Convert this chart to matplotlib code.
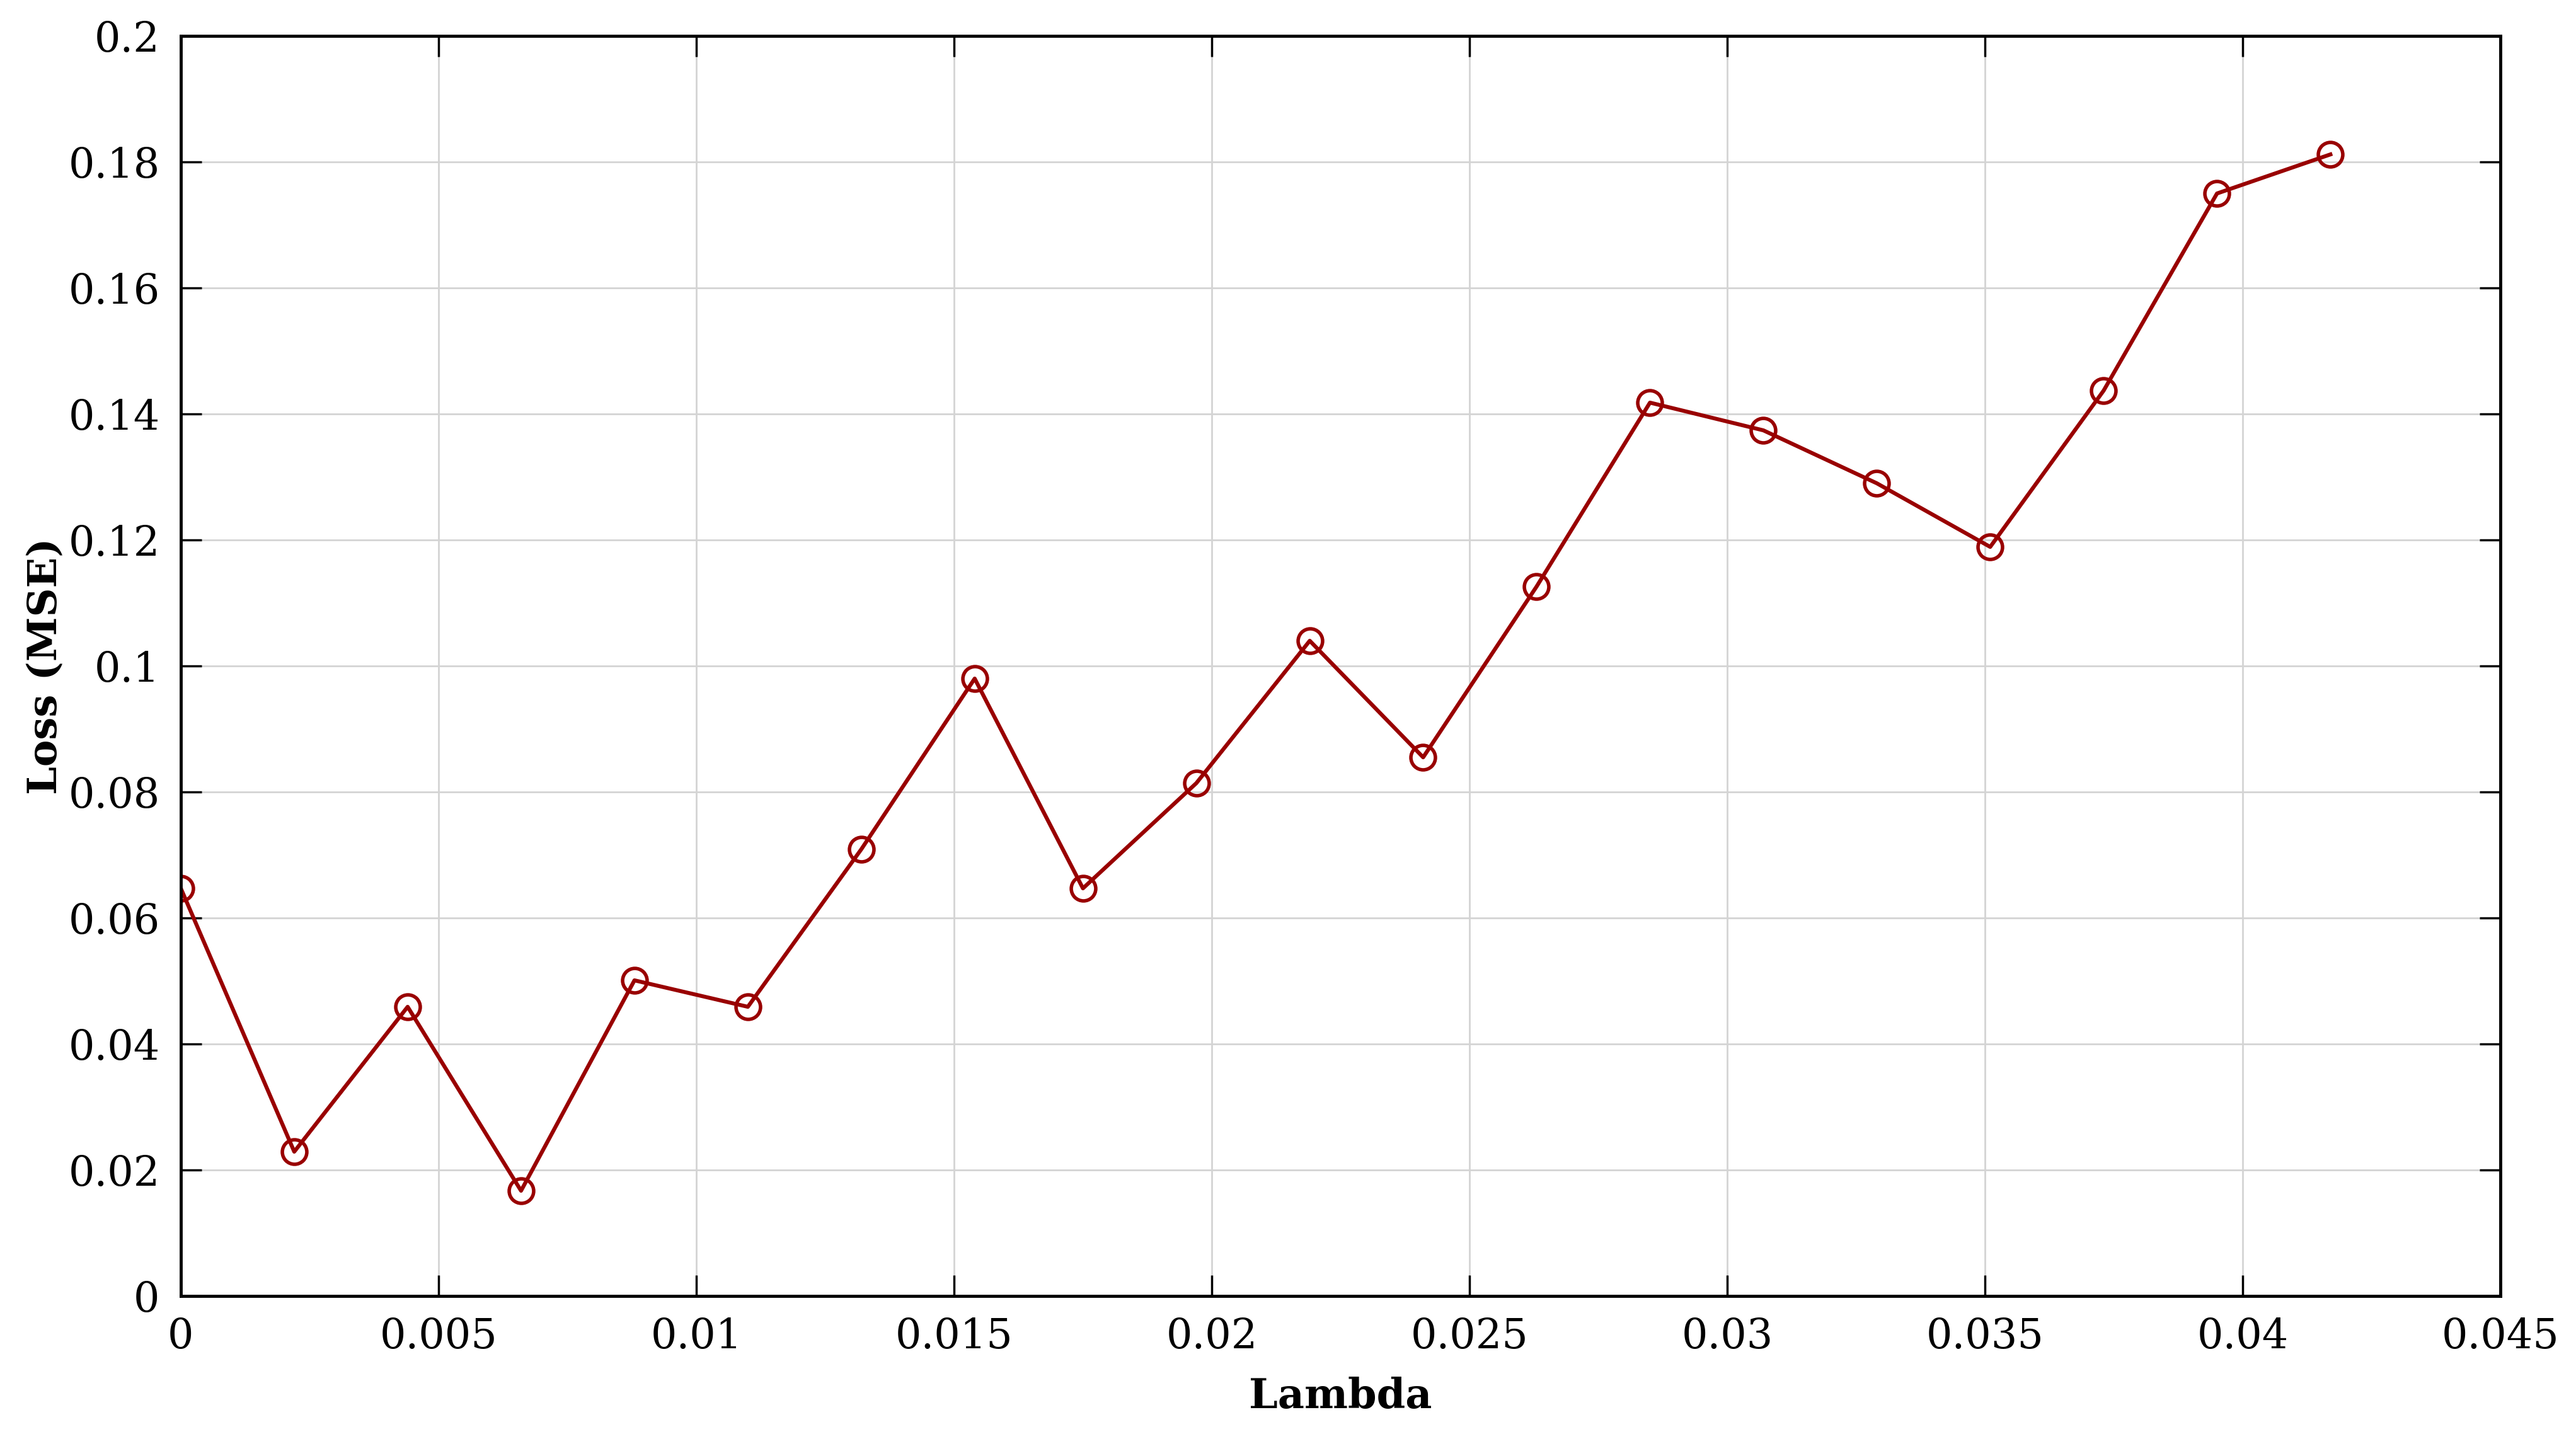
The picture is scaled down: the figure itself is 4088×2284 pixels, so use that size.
import matplotlib
matplotlib.use("Agg")
import matplotlib.pyplot as plt
from matplotlib.ticker import FormatStrFormatter, MultipleLocator

# Lambda values and the MSE loss
lambdas = [0, 0.0022, 0.0044, 0.0066, 0.0088, 0.011, 0.0132, 0.0154, 0.0175, 0.0197,
           0.0219, 0.0241, 0.0263, 0.0285, 0.0307, 0.0329, 0.0351, 0.0373, 0.0395, 0.0417]
loss = [0.0647, 0.0229, 0.0459, 0.0167, 0.0501, 0.0459, 0.0709, 0.0980, 0.0647, 0.0814,
        0.1040, 0.0855, 0.1126, 0.1418, 0.1374, 0.1290, 0.1189, 0.1437, 0.1750, 0.1812]

plt.rcParams['font.family'] = ['DejaVu Serif']

fig = plt.figure(figsize=(40.88, 22.84), dpi=100)
ax = fig.add_axes([0.0702, 0.0994, 0.9005, 0.8756])

ax.plot(lambdas, loss, color='#990000', linewidth=4.5, marker='o', markersize=28,
        markerfacecolor='none', markeredgecolor='#990000', markeredgewidth=4)

ax.set_xlim(0, 0.045)
ax.set_ylim(0, 0.2)
ax.xaxis.set_major_locator(MultipleLocator(0.005))
ax.yaxis.set_major_locator(MultipleLocator(0.02))
ax.xaxis.set_major_formatter(FormatStrFormatter('%g'))
ax.yaxis.set_major_formatter(FormatStrFormatter('%g'))

ax.grid(True, color='#d4d4d4', linewidth=2)
ax.set_axisbelow(True)
ax.tick_params(direction='in', length=24, width=2.5, labelsize=47, pad=24,
               top=True, right=True)
for s in ax.spines.values():
    s.set_linewidth(3.5)

ax.set_xlabel("Lambda", fontsize=47, fontweight='bold', labelpad=22)
ax.set_ylabel("Loss (MSE)", fontsize=46, fontweight='bold', labelpad=4)

fig.savefig("out.png", dpi=100)
